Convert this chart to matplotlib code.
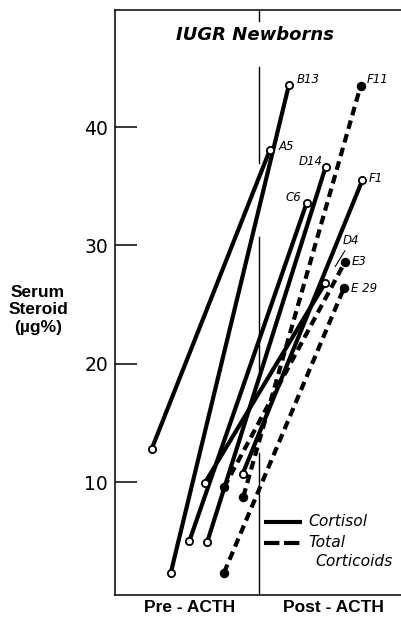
import matplotlib
matplotlib.use('Agg')
import matplotlib.pyplot as plt

plt.rcParams['font.family'] = ['DejaVu Sans']

# ---------------- data ----------------
cortisol_ids = ['A5', 'B13', 'C6', 'D14', 'D4', 'F1']
cortisol_pre = [12.8, 2.3, 5.0, 4.95, 9.95, 10.7]
cortisol_post = [38.1, 43.6, 33.6, 36.65, 26.8, 35.5]
cortisol_x_pre = [3.67, 5.57, 7.43, 9.23, 9.0, 12.77]
cortisol_x_post = [15.5, 17.4, 19.17, 21.07, 21.0, 24.73]

total_ids = ['F11', 'E3', 'E 29']
total_pre = [8.76, 9.55, 2.33]
total_post = [43.5, 28.6, 26.4]
total_x_pre = [12.83, 10.9, 10.9]
total_x_post = [24.57, 23.0, 22.9]

y_ticks = [10, 20, 30, 40]
group_labels = ['Pre - ACTH', 'Post - ACTH']
group_x = [7.5, 21.8]

# label offsets (points) for post-ACTH annotations
label_offsets = {
    'A5': (6.5, 2.2, 'left'), 'B13': (5.8, 3.6, 'left'), 'C6': (-3.6, 3.6, 'right'),
    'D14': (-2.2, 3.6, 'right'), 'F1': (4.3, 1.4, 'left'),
    'F11': (4.5, 4.3, 'left'), 'E3': (4.8, 0, 'left'), 'E 29': (4.8, 0, 'left'),
}

# ---------------- figure ----------------
fig = plt.figure(figsize=(4.01, 6.21), dpi=100)
ax = fig.add_axes([115 / 401, 26 / 621, 290 / 401, 585 / 621])
ax.set_xlim(0, 29)
ax.set_ylim(0.45, 49.9)

lw_line = 3.0
for i, cid in enumerate(cortisol_ids):
    ax.plot([cortisol_x_pre[i], cortisol_x_post[i]], [cortisol_pre[i], cortisol_post[i]],
            color='black', lw=lw_line, solid_capstyle='butt', zorder=2)
    ax.plot([cortisol_x_pre[i], cortisol_x_post[i]], [cortisol_pre[i], cortisol_post[i]],
            ls='none', marker='o', ms=5.2, mfc='white', mec='black', mew=1.3, zorder=3)

for i, tid in enumerate(total_ids):
    ax.plot([total_x_pre[i], total_x_post[i]], [total_pre[i], total_post[i]],
            color='black', lw=lw_line, ls=(0, (2.1, 1.3)), dash_capstyle='butt', zorder=2)
    ax.plot([total_x_pre[i], total_x_post[i]], [total_pre[i], total_post[i]],
            ls='none', marker='o', ms=5.8, mfc='black', mec='black', zorder=3)

# point labels
for ids, xs, ys in [(cortisol_ids, cortisol_x_post, cortisol_post),
                    (total_ids, total_x_post, total_post)]:
    for cid, x, y in zip(ids, xs, ys):
        if cid == 'D4':
            ax.annotate(cid, xy=(x, y), xytext=(13, 31), textcoords='offset points',
                        ha='left', va='center', fontsize=8.5, style='italic',
                        arrowprops=dict(arrowstyle='-', lw=0.8, color='black',
                                        shrinkA=1, shrinkB=14))
        else:
            dx, dy, ha = label_offsets[cid]
            ax.annotate(cid, xy=(x, y), xytext=(dx, dy), textcoords='offset points',
                        ha=ha, va='center', fontsize=8.5, style='italic')

# divider line (broken, as drawn in the original)
div_x = 14.4
for y0, y1 in [(49.0, 49.9), (37.0, 45.1), (19.5, 30.7), (0.45, 12.45)]:
    ax.plot([div_x, div_x], [y0, y1], color='black', lw=1.0, zorder=1)

# title
ax.text(0.4817, 0.957, 'IUGR Newborns', transform=ax.transAxes, ha='center', va='center',
        fontsize=13, fontweight='bold', style='italic')

# legend
ax.plot([0.514, 0.645], [0.1253, 0.1253], transform=ax.transAxes, color='black',
        lw=lw_line, solid_capstyle='butt')
ax.plot([0.514, 0.645], [0.0889, 0.0889], transform=ax.transAxes, color='black',
        lw=lw_line, ls=(0, (3.7, 1.1)), dash_capstyle='butt')
ax.text(0.6655, 0.1253, 'Cortisol', transform=ax.transAxes, ha='left', va='center',
        fontsize=11.2, style='italic')
ax.text(0.6655, 0.0889, 'Total', transform=ax.transAxes, ha='left', va='center',
        fontsize=11.2, style='italic')
ax.text(0.9586, 0.0581, 'Corticoids', transform=ax.transAxes, ha='right', va='center',
        fontsize=11.2, style='italic')

# axes styling
ax.spines['right'].set_visible(False)
for s in ['left', 'bottom', 'top']:
    ax.spines[s].set_linewidth(1.1)
ax.set_yticks(y_ticks)
ax.set_yticklabels([str(t) for t in y_ticks])
ax.tick_params(axis='y', direction='in', length=16, width=1.1, pad=5, labelsize=13.5)
ax.set_xticks(group_x)
ax.set_xticklabels(group_labels, fontfamily='Liberation Sans', fontweight='bold', fontsize=12.5)
ax.tick_params(axis='x', length=0, pad=3.5)

fig.text(38 / 401, 1 - 310 / 621, 'Serum\nSteroid\n(\u00b5g%)', ha='center', va='center',
         fontsize=12.5, fontweight='bold', family='Liberation Sans', linespacing=1.2)

fig.savefig('out.png', dpi=100)
